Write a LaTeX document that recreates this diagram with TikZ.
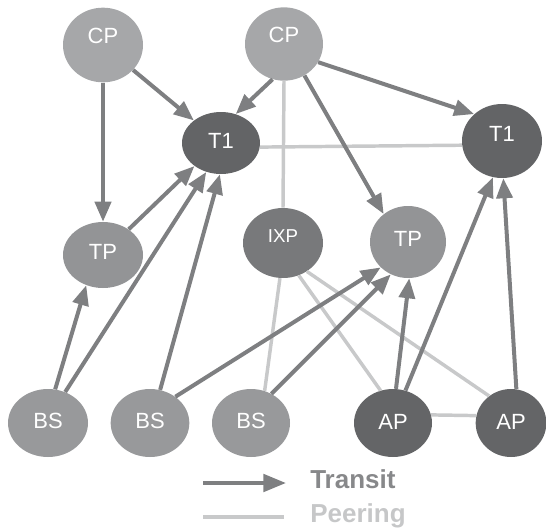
\documentclass[tikz,border=0pt]{standalone}
\usepackage{fontspec}
\setmainfont{Liberation Sans}
\usetikzlibrary{shapes.geometric,arrows.meta}
\definecolor{cpcol}{HTML}{A6A7A9}
\definecolor{t1col}{HTML}{636466}
\definecolor{tpcol}{HTML}{939496}
\definecolor{ixpcol}{HTML}{78797B}
\definecolor{bscol}{HTML}{98999B}
\definecolor{apcol}{HTML}{646567}
\definecolor{transitcol}{HTML}{7E7F81}
\definecolor{peeringcol}{HTML}{C8C9CA}
\definecolor{transittext}{HTML}{87888A}
\definecolor{peeringtext}{HTML}{C6C7C8}
\newcommand\liftxt[2]{\raisebox{#1}[\height][\depth]{#2}}
\tikzset{
  asnode/.style={ellipse, inner sep=0pt, text=white,
    font=\fontsize{16.5}{19}\selectfont},
  transitedge/.style={draw=transitcol, line width=3pt,
    -{Triangle[length=15pt,width=12pt]}, fill=transitcol},
  peeringedge/.style={draw=peeringcol, line width=2.6pt},
}
\begin{document}
\begin{tikzpicture}[x=0.75pt,y=-0.75pt]
\useasboundingbox (0,0) rectangle (546,529);
% nodes
\node[asnode, fill=cpcol, minimum width=60pt, minimum height=56pt] (CP1) at (103,45) {\liftxt{7pt}{CP}};
\node[asnode, fill=cpcol, minimum width=58.5pt, minimum height=55pt] (CP2) at (284,44) {\liftxt{7pt}{CP}};
\node[asnode, fill=t1col, minimum width=58.5pt, minimum height=46.5pt] (T1L) at (221,143) {\liftxt{1.5pt}{T1}};
\node[asnode, fill=t1col, minimum width=60pt, minimum height=55.5pt] (T1R) at (502,141) {\liftxt{5pt}{T1}};
\node[asnode, fill=tpcol, minimum width=60pt, minimum height=49.5pt] (TP1) at (103,255) {\liftxt{2.5pt}{TP}};
\node[asnode, fill=ixpcol, minimum width=60pt, minimum height=52.5pt, font=\fontsize{14}{17}\selectfont] (IXP) at (283,243) {\liftxt{5pt}{IXP}};
\node[asnode, fill=tpcol, minimum width=57pt, minimum height=54pt] (TP2) at (408,242) {\liftxt{2pt}{TP}};
\node[asnode, fill=bscol, minimum width=60pt, minimum height=51pt] (BS1) at (48,423) {\liftxt{1.5pt}{BS}};
\node[asnode, fill=bscol, minimum width=59pt, minimum height=51pt] (BS2) at (150,423) {\liftxt{1.5pt}{BS}};
\node[asnode, fill=bscol, minimum width=58.5pt, minimum height=51pt] (BS3) at (251,423) {\liftxt{1.5pt}{BS}};
\node[asnode, fill=apcol, minimum width=58.5pt, minimum height=51pt] (AP1) at (393,423) {\liftxt{1pt}{AP}};
\node[asnode, fill=apcol, minimum width=53pt, minimum height=51pt] (AP2) at (511,423) {\liftxt{1pt}{AP}};
% peering edges
\draw[peeringedge] (CP2.south) -- (IXP.north);
\draw[peeringedge] (T1L.-6) -- (T1R.186);
\draw[peeringedge] (IXP.265) -- (BS3.67);
\draw[peeringedge] (IXP.-64) -- (AP1.111);
\draw[peeringedge] (IXP.-50) -- (AP2.129);
\draw[peeringedge] (AP1.12) -- (AP2.168);
% transit edges
\draw[transitedge] (CP1.south) -- (TP1.north);
\draw[transitedge] (CP1) -- (T1L);
\draw[transitedge] (CP2.252) -- (T1L.63);
\draw[transitedge] (CP2.-28) -- (T1R.136);
\draw[transitedge] (CP2.-57) -- (TP2.131);
\draw[transitedge] (TP1.45) -- (T1L.221);
\draw[transitedge] (BS1.61) -- (T1L.243);
\draw[transitedge] (BS2.73) -- (T1L.268);
\draw[transitedge] (BS1.78) -- (TP1.241);
\draw[transitedge] (BS2.46) -- (TP2.223);
\draw[transitedge] (BS3.55) -- (TP2.242);
\draw[transitedge] (AP1.85) -- (TP2.272);
\draw[transitedge] (AP1.69) -- (T1R.256);
\draw[transitedge] (AP2.81) -- (T1R.272);
% legend
\coordinate (tra) at (203,483);
\coordinate (trb) at (286,483);
\coordinate (pea) at (203,517);
\coordinate (peb) at (284,517);
\draw[draw=transitcol, line width=3pt, -{Triangle[length=17pt,width=13pt]}] (tra) -- (trb);
\draw[peeringedge] (pea) -- (peb);
\node[anchor=base west, inner sep=0pt, text=transittext, font=\fontsize{19.5}{23}\selectfont\bfseries] (transitlbl) at (310,488) {Transit};
\node[anchor=base west, inner sep=0pt, text=peeringtext, font=\fontsize{19.5}{23}\selectfont\bfseries] (peeringlbl) at (310,522) {Peering};
\end{tikzpicture}
\end{document}
